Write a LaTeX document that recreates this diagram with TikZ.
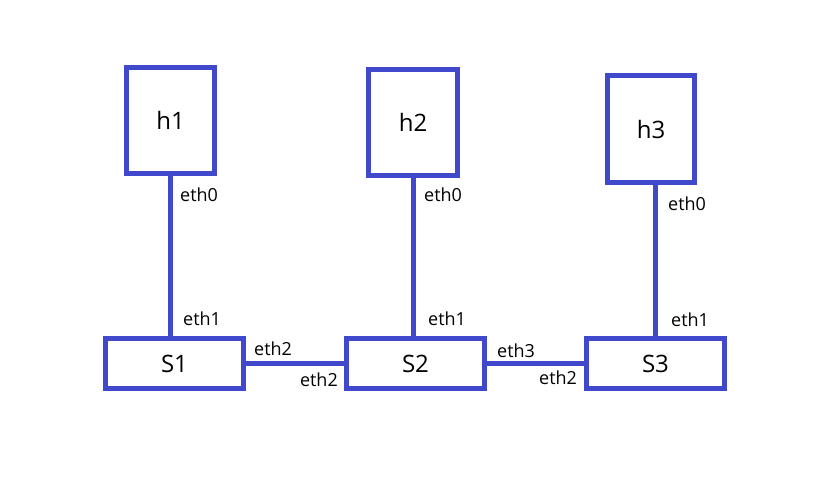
\documentclass[tikz,border=0pt]{standalone}
\usepackage{fontspec}
\setmainfont{Open Sans}
\definecolor{linkblue}{RGB}{64,72,204}
\tikzset{
	hostbox/.style={draw=linkblue, line width=5pt, minimum width=88pt, minimum height=106pt, inner sep=0pt, font=\fontsize{24}{24}\selectfont},
	switchbox/.style={draw=linkblue, line width=5pt, minimum width=138pt, minimum height=50pt, inner sep=0pt, font=\fontsize{24}{24}\selectfont},
	link/.style={draw=linkblue, line width=5pt},
	port/.style={inner sep=0pt, anchor=west, font=\fontsize{18}{18}\selectfont}
}
\begin{document}
\begin{tikzpicture}[x=1pt, y=-1pt]
	\useasboundingbox (0,0) rectangle (813,487);
	% hosts
	\node[hostbox] (h1) at (170.5,120.5) {h1};
	\node[hostbox, minimum width=89pt] (h2) at (413,122.5) {h2};
	\node[hostbox, minimum width=87pt, minimum height=107pt] (h3) at (651,129) {h3};
	% switches
	\node[switchbox] (s1) at (174.5,363.5) {S1};
	\node[switchbox] (s2) at (415.5,363.5) {S2};
	\node[switchbox] (s3) at (655.5,363.5) {S3};
	% links
	\draw[link] (h1.south) -- (h1.south |- s1.north);
	\draw[link] (h2.south) -- (h2.south |- s2.north);
	\draw[link] (s3.north) -- (s3.north |- h3.south);
	\draw[link] (s1.east) -- (s2.west);
	\draw[link] (s2.east) -- (s3.west);
	% port names
	\node[port] (h1eth0) at (180,195) {eth0};
	\node[port] (s1eth1) at (183,319) {eth1};
	\node[port] (s1eth2) at (254,349) {eth2};
	\node[port, anchor=east] (s2eth2) at (338,380) {eth2};
	\node[port] (h2eth0) at (424,195) {eth0};
	\node[port] (s2eth1) at (428,319) {eth1};
	\node[port] (s2eth3) at (497,351) {eth3};
	\node[port] (s3eth2) at (539,378) {eth2};
	\node[port] (h3eth0) at (668,204) {eth0};
	\node[port] (s3eth1) at (671,320) {eth1};
\end{tikzpicture}
\end{document}
